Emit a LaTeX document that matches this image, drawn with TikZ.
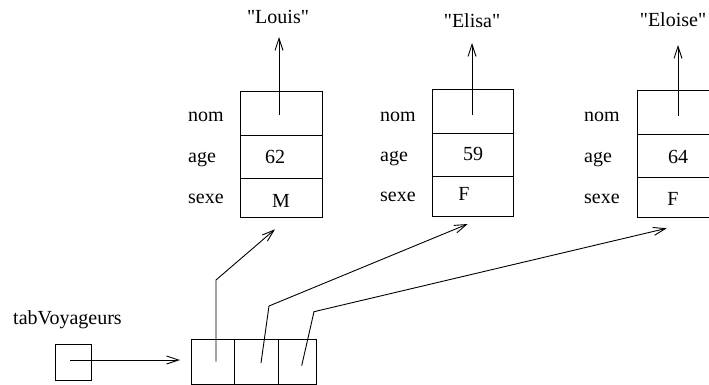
\documentclass[tikz,border=0pt]{standalone}
\usepackage{fontspec}
\setmainfont{Liberation Serif}[Ligatures=TeXOff]
\usetikzlibrary{arrows.meta}
\begin{document}
\begin{tikzpicture}[x=1pt,y=-1pt,
  every node/.style={font=\fontsize{20}{23}\selectfont, inner sep=0pt},
  cell/.style={draw, line width=0.9pt, rectangle, minimum width=82pt, inner sep=0pt},
  acell/.style={draw, line width=0.9pt, rectangle, minimum height=45pt, inner sep=0pt},
  lbl/.style={anchor=base west},
  val/.style={anchor=base},
  ptr/.style={line width=0.9pt, -{Straight Barb[length=12pt,width=8pt,line width=0.9pt]}}
]
\useasboundingbox (0,0) rectangle (709,385);

% Box 1 : Louis
\node[cell, minimum height=44pt] (l1) at (281,113) {};
\node[cell, minimum height=43pt] (l2) at (281,156.5) {};
\node[cell, minimum height=39pt] (l3) at (281,197.5) {};
\node[val] (l2v) at (275,163) {62};
\node[val] (l3v) at (281,207) {M};
\node[lbl] (l1n) at (188,122) {nom};
\node[lbl] (l2n) at (188,162) {age};
\node[lbl] (l3n) at (188,203) {sexe};
\node[val] (louis) at (278,24) {"Louis"};
\coordinate (l1s) at (279,115);
\coordinate (l1e) at (279,37);
\draw[ptr] (l1s) -- (l1e);

% Box 2 : Elisa
\node[cell, minimum height=44pt, minimum width=81pt] (e1) at (472.5,111.3) {};
\node[cell, minimum height=42.7pt, minimum width=81pt] (e2) at (472.5,154.7) {};
\node[cell, minimum height=40pt, minimum width=81pt] (e3) at (472.5,196) {};
\node[val] (e2v) at (473,160.5) {59};
\node[val] (e3v) at (464,200.5) {F};
\node[lbl] (e1n) at (380,122) {nom};
\node[lbl] (e2n) at (380,161) {age};
\node[lbl] (e3n) at (380,201) {sexe};
\node[val] (elisa) at (472,28) {"Elisa"};
\coordinate (e1s) at (472,115);
\coordinate (e1e) at (472,43);
\draw[ptr] (e1s) -- (e1e);

% Box 3 : Eloise
\node[cell, minimum height=44.3pt] (o1) at (678,112.8) {};
\node[cell, minimum height=42.7pt] (o2) at (678,156.3) {};
\node[cell, minimum height=39.8pt] (o3) at (678,197.6) {};
\node[val] (o2v) at (678,163) {64};
\node[val] (o3v) at (673,205) {F};
\node[lbl] (o1n) at (584,122) {nom};
\node[lbl] (o2n) at (584,162) {age};
\node[lbl] (o3n) at (584,203) {sexe};
\node[val] (eloise) at (673,27) {"Eloise"};
\coordinate (o1s) at (678,116);
\coordinate (o1e) at (678,45);
\draw[ptr] (o1s) -- (o1e);

% tabVoyageurs
\node[lbl] (tabv) at (13,324) {tabVoyageurs};
\node[draw, line width=0.9pt, minimum width=36pt, minimum height=36pt] (tb) at (73,362) {};
\coordinate (tbs) at (70,360);
\coordinate (tbe) at (180,360);
\draw[ptr] (tbs) -- (tbe);

% array
\node[acell, minimum width=42.6pt] (a1) at (213,361.8) {};
\node[acell, minimum width=44pt] (a2) at (256.3,361.8) {};
\node[acell, minimum width=38.4pt] (a3) at (297.5,361.8) {};

\coordinate (a1s) at (216,361.7);
\coordinate (a1k) at (216,280);
\coordinate (a1e) at (275,229.3);
\draw[ptr] (a1s) -- (a1k) -- (a1e);

\coordinate (a2s) at (261,363);
\coordinate (a2k) at (269,306);
\coordinate (a2e) at (467.7,224);
\draw[ptr] (a2s) -- (a2k) -- (a2e);

\coordinate (a3s) at (301.7,365.7);
\coordinate (a3k) at (314,311.7);
\coordinate (a3e) at (666.7,228.3);
\draw[ptr] (a3s) -- (a3k) -- (a3e);
\end{tikzpicture}
\end{document}
